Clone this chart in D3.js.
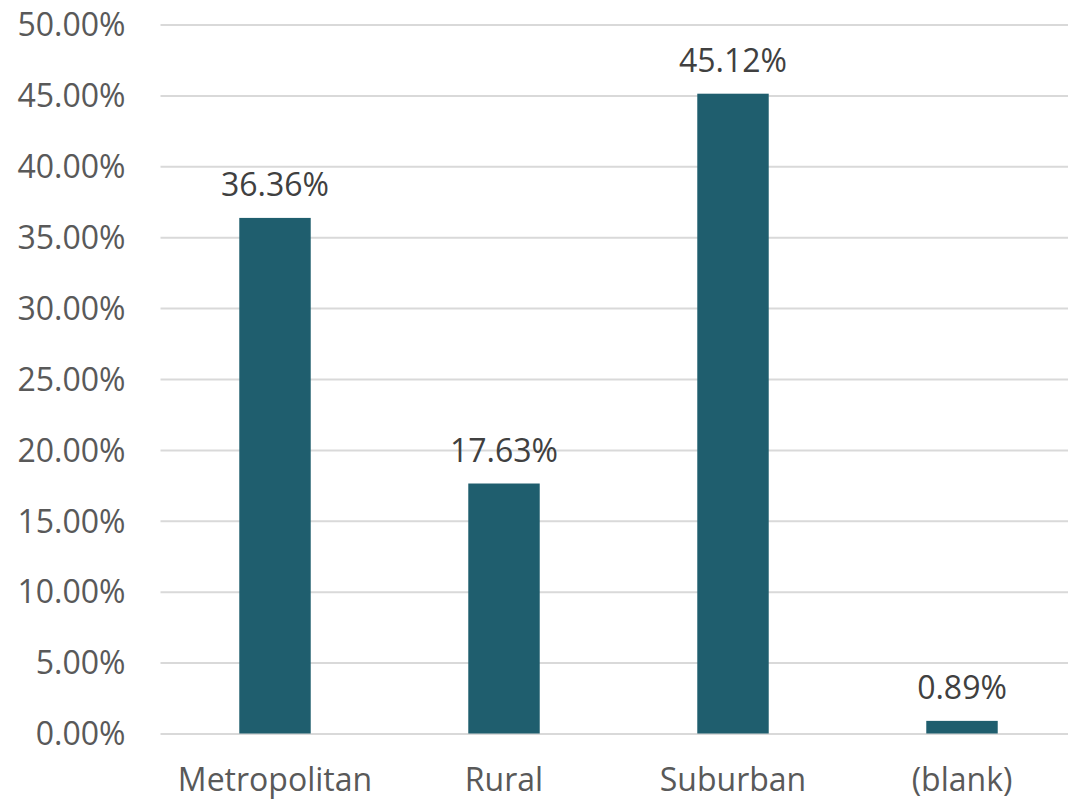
<!DOCTYPE html>
<html lang="en">
  <head>
    <meta charset="utf-8">
    <title>Area type share</title>
    <style>
      body, html { margin:0; padding:0; background:#fff; }
      svg text { font-family: "Open Sans", sans-serif; }
    </style>
    <script src="https://cdn.jsdelivr.net/npm/d3@7/dist/d3.min.js"></script>
  </head>
  <body>
    <div id="chart"></div>
 <script>
var categories = ['Metropolitan', 'Rural', 'Suburban', '(blank)'];
var shares     = [0.3636, 0.1763, 0.4512, 0.0089];
var yTicks     = [0, 0.05, 0.10, 0.15, 0.20, 0.25, 0.30, 0.35, 0.40, 0.45, 0.50];

var width = 1068, height = 801;
// plot edges (note: "top" is a reserved window prop, so use pTop etc.)
var pLeft = 160.5, pRight = 1076.5, pTop = 24.5, pBottom = 733.5;

var svg = d3.select('#chart').append('svg')
  .attr('width', width).attr('height', height);

var x = d3.scaleBand().domain(categories).range([pLeft, pRight])
  .paddingInner(0.688).paddingOuter(0.344);
var y = d3.scaleLinear().domain([0, 0.5]).range([pBottom, pTop]);

// gridlines + y labels
var yAxis = d3.axisLeft(y).tickValues(yTicks)
  .tickFormat(d3.format('.2%'))
  .tickSize(-(width - pLeft)).tickPadding(35);
var gy = svg.append('g').attr('transform', 'translate(' + pLeft + ',0)').call(yAxis);
gy.select('.domain').remove();
gy.selectAll('line').attr('stroke', '#d9d9d9').attr('stroke-width', 2);
gy.selectAll('text').attr('fill', '#595959').style('font-size', '32px').attr('dy', '0.35em');

// bars
svg.selectAll('.bar').data(categories).enter().append('rect')
  .attr('class', 'bar')
  .attr('x', function(d){ return x(d); })
  .attr('width', x.bandwidth())
  .attr('y', function(d, i){ return y(shares[i]); })
  .attr('height', function(d, i){ return y(0) - y(shares[i]); })
  .attr('fill', '#1f5e6e');

// value labels
svg.selectAll('.val').data(categories).enter().append('text')
  .attr('class', 'val')
  .attr('x', function(d){ return x(d) + x.bandwidth() / 2; })
  .attr('y', function(d, i){ return y(shares[i]) - 22; })
  .attr('text-anchor', 'middle')
  .attr('fill', '#404040')
  .style('font-size', '32px')
  .text(function(d, i){ return d3.format('.2%')(shares[i]); });

// x labels
var xAxis = d3.axisBottom(x).tickSize(0).tickPadding(0);
var gx = svg.append('g').attr('transform', 'translate(0,' + pBottom + ')').call(xAxis);
gx.select('.domain').remove();
gx.selectAll('text').attr('fill', '#595959').style('font-size', '32px')
  .attr('y', 57).attr('dy', 0);
    </script>
  </body>
</html>
